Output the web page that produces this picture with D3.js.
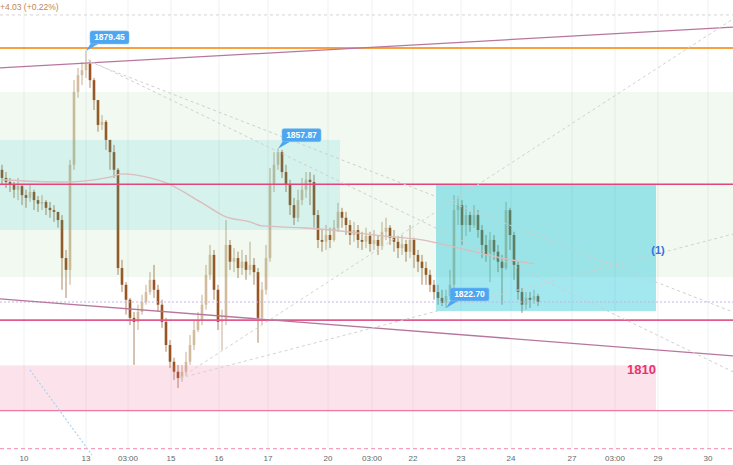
<!DOCTYPE html>
<html><head><meta charset="utf-8">
<script src="https://cdn.jsdelivr.net/npm/d3@7"></script>
<style>html,body{margin:0;padding:0;background:#fff;overflow:hidden}svg{display:block}</style>
</head><body><svg id="c" width="733" height="465"></svg>
<script>
// ---- data ----
const opens = [1853.2,1851.4,1850.5,1849.9,1848.8,1849.6,1847.6,1847.0,1848.3,1846.5,
1845.7,1846.1,1844.8,1844.3,1843.9,1842.1,1833.7,1831.1,1854.3,1870.4,
1874.1,1875.2,1876.6,1873.0,1868.6,1863.1,1863.8,1859.8,1857.1,1853.2,
1831.5,1827.8,1824.5,1820.5,1819.6,1821.8,1824.0,1826.2,1828.9,1826.7,
1823.4,1819.6,1814.5,1810.8,1808.6,1807.2,1808.6,1810.8,1814.5,1817.8,
1820.0,1823.4,1830.0,1834.4,1826.7,1819.6,1820.0,1836.6,1832.9,1833.7,
1831.5,1832.9,1831.1,1832.2,1830.6,1820.5,1826.7,1833.7,1849.9,1854.3,
1857.1,1852.7,1849.9,1845.4,1842.6,1846.5,1848.8,1851.0,1850.5,1843.2,
1837.7,1837.3,1838.8,1837.7,1840.4,1843.9,1842.6,1841.0,1838.8,1839.9,
1837.7,1837.3,1838.6,1836.8,1837.7,1836.4,1839.5,1840.4,1838.2,1837.3,
1835.9,1836.8,1835.1,1837.7,1834.4,1832.9,1831.5,1830.0,1827.8,1826.2,
1824.9,1823.8,1825.3,1827.8,1844.3,1845.4,1841.0,1843.2,1841.0,1843.2,
1839.9,1836.6,1834.4,1837.7,1835.1,1832.9,1831.5,1844.3,1838.8,1832.2,
1826.2,1823.4,1824.9,1824.5,1825.3];
const highs = [1854.3,1852.7,1851.4,1850.5,1851.4,1849.9,1848.8,1849.9,1848.8,1847.4,
1847.6,1846.5,1846.1,1845.4,1843.9,1843.2,1835.5,1855.4,1873.0,1875.7,
1877.0,1879.45,1877.5,1873.5,1868.6,1865.3,1864.2,1859.8,1858.7,1853.6,
1833.3,1828.4,1824.9,1821.8,1823.4,1825.6,1827.8,1830.6,1832.2,1827.8,
1824.5,1820.5,1815.6,1811.7,1810.1,1810.1,1813.0,1816.7,1820.0,1821.8,
1825.6,1832.2,1836.6,1835.5,1827.8,1822.3,1842.1,1837.7,1835.9,1835.1,
1835.5,1834.4,1837.3,1833.7,1831.5,1828.4,1836.6,1853.6,1857.1,1857.87,
1857.6,1854.3,1851.0,1847.0,1848.8,1851.4,1852.7,1852.7,1852.1,1844.3,
1839.9,1841.0,1840.4,1842.1,1845.9,1844.8,1843.9,1842.1,1841.7,1841.0,
1839.5,1840.4,1839.5,1839.9,1838.6,1841.7,1842.6,1841.0,1839.9,1838.6,
1838.8,1837.7,1841.0,1838.2,1835.5,1834.4,1832.9,1831.1,1828.9,1827.8,
1826.7,1826.7,1831.1,1847.6,1847.4,1846.5,1845.4,1843.9,1845.4,1844.3,
1841.0,1838.8,1839.5,1838.8,1836.6,1834.4,1846.1,1844.8,1839.5,1832.9,
1827.1,1826.2,1826.2,1826.7,1825.8];
const lows = [1849.9,1849.2,1848.3,1847.0,1846.5,1845.4,1844.8,1846.1,1844.3,1843.9,
1844.3,1843.2,1842.6,1841.7,1840.4,1826.7,1824.9,1827.8,1853.2,1869.1,
1871.9,1873.5,1871.3,1866.4,1861.6,1862.0,1857.6,1853.2,1851.4,1830.0,
1826.2,1821.2,1818.9,1810.1,1817.8,1821.2,1823.4,1825.6,1824.9,1821.8,
1818.3,1813.0,1809.4,1806.8,1805.0,1806.4,1807.7,1810.1,1813.4,1817.4,
1818.9,1822.3,1828.9,1824.5,1817.8,1813.4,1818.9,1831.1,1830.6,1829.3,
1830.0,1828.9,1830.0,1827.8,1815.0,1818.9,1825.6,1832.9,1848.3,1853.2,
1851.4,1848.3,1843.2,1841.0,1841.7,1845.4,1847.0,1845.4,1840.4,1835.9,
1835.1,1835.5,1835.9,1837.3,1839.5,1840.4,1838.8,1836.6,1837.3,1835.9,
1835.5,1835.9,1835.1,1835.5,1834.4,1835.5,1837.7,1836.6,1835.1,1833.7,
1834.4,1832.9,1833.7,1831.5,1830.6,1827.8,1827.8,1826.2,1824.5,1823.4,
1823.1,1822.7,1824.5,1826.7,1841.0,1836.6,1838.6,1839.5,1840.4,1838.2,
1833.7,1832.9,1828.4,1833.3,1830.6,1823.4,1831.1,1835.5,1828.9,1824.5,
1821.6,1822.3,1822.7,1823.6,1823.1];
const closes = [1851.4,1850.5,1849.9,1848.8,1849.6,1847.6,1847.0,1848.3,1846.5,1845.7,
1846.1,1844.8,1844.3,1843.9,1842.1,1833.7,1831.1,1854.3,1870.4,1874.1,
1875.2,1876.6,1873.0,1868.6,1863.1,1863.8,1859.8,1857.1,1853.2,1831.5,
1827.8,1824.5,1820.5,1819.6,1821.8,1824.0,1826.2,1828.9,1826.7,1823.4,
1819.6,1814.5,1810.8,1808.6,1807.2,1808.6,1810.8,1814.5,1817.8,1820.0,
1823.4,1830.0,1834.4,1826.7,1819.6,1820.0,1836.6,1832.9,1833.7,1831.5,
1832.9,1831.1,1832.2,1830.6,1820.5,1826.7,1833.7,1849.9,1854.3,1857.1,
1852.7,1849.9,1845.4,1842.6,1846.5,1848.8,1851.0,1850.5,1843.2,1837.7,
1837.3,1838.8,1837.7,1840.4,1843.9,1842.6,1841.0,1838.8,1839.9,1837.7,
1837.3,1838.6,1836.8,1837.7,1836.4,1839.5,1840.4,1838.2,1837.3,1835.9,
1836.8,1835.1,1837.7,1834.4,1832.9,1831.5,1830.0,1827.8,1826.2,1824.9,
1823.8,1825.3,1827.8,1844.3,1845.4,1841.0,1843.2,1841.0,1843.2,1839.9,
1836.6,1834.4,1837.7,1835.1,1832.9,1831.5,1844.3,1838.8,1832.2,1826.2,
1823.4,1824.9,1824.5,1825.3,1824.0];

const tickIndex  = [5.5,21,31.5,42.25,54.25,66.5,81.5,92.5,102.75,114.75,127.25,142.5,153.25,164,176.5];
const tickLabels = ["10","13","03:00","15","16","17","20","03:00","22","23","24","27","03:00","29","30"];

const maIndex  = [0,15,27,30,37,41,50,56,62,65,75,82,95,105,113,125,133];
const maValues = [1851.0,1850.5,1851.6,1852.3,1851.4,1850.3,1845.9,1842.8,1841.7,1840.8,1840.4,1839.9,1838.6,1837.7,1836.2,1833.7,1832.4];

const zoneNames  = ["range","supply","target","box"];
const zoneStart  = [-0.5,-0.5,-0.5,108.5];
const zoneEnd    = [182.75,84.5,163.5,163.5];
const zoneTop    = [1870.4,1859.8,1810.0,1850.0];
const zoneBottom = [1829.5,1839.9,1800.0,1822.0];

const levelNames  = ["orange","mid","support","target","low","topDash","botDash"];
const levelPrices = [1880.1,1850.0,1820.0,1800.0,1824.0,1887.4,1791.6];

const trendNames = ["upper","lower","peakA","peakB","lowC","lowD","leftBlue"];
const trendI1 = [-0.5,-0.5,21.5,22,44.5,44.5,7];
const trendP1 = [1875.7,1824.7,1877.5,1877.0,1807.2,1807.2,1809.0];
const trendI2 = [182.75,182.75,182.75,182.75,182.75,182.75,22.5];
const trendP2 = [1884.7,1812.1,1808.6,1821.8,1886.5,1839.0,1790.2];

const calloutIndex = [21,69,111];
const calloutPrice = [1879.45,1857.87,1822.70];

// ---- scales ----
const W = 733, H = 465;
const svg = d3.select("#c");
const x = d3.scaleLinear().domain([-0.5,182.75]).range([0,W]);
const y = d3.scaleLinear().domain([1788.0,1890.7]).range([H,0]);

svg.append("rect").attr("width",W).attr("height",H).attr("fill","#fff");

// grid
svg.append("g").selectAll("line").data(tickIndex).join("line")
  .attr("x1",d=>x(d)).attr("x2",d=>x(d)).attr("y1",0).attr("y2",448)
  .attr("stroke","#f0f1f3").attr("stroke-width",1);

// candles
const candles = d3.range(closes.length).map(i=>({i,o:opens[i],h:highs[i],l:lows[i],c:closes[i]}));
const cg = svg.append("g");
cg.selectAll("line").data(candles).join("line")
  .attr("x1",d=>x(d.i)).attr("x2",d=>x(d.i))
  .attr("y1",d=>y(d.h)).attr("y2",d=>y(d.l))
  .attr("stroke",d=>d.c>=d.o?"#c4ae92":"#ad8663").attr("stroke-width",1);
cg.selectAll("rect").data(candles).join("rect")
  .attr("x",d=>x(d.i)-1.3).attr("width",2.6)
  .attr("y",d=>y(Math.max(d.o,d.c)))
  .attr("height",d=>Math.max(1,Math.abs(y(d.o)-y(d.c))))
  .attr("fill",d=>d.c>=d.o?"#d3bc9e":"#9a5424");

// zones
const zoneFill = {range:"rgba(76,175,80,0.08)",supply:"rgba(0,188,212,0.11)",target:"rgba(240,98,146,0.18)",box:"rgba(0,188,212,0.36)"};
svg.append("g").selectAll("rect").data(zoneNames).join("rect")
  .attr("x",(d,k)=>x(zoneStart[k])).attr("width",(d,k)=>x(zoneEnd[k])-x(zoneStart[k]))
  .attr("y",(d,k)=>y(zoneTop[k])).attr("height",(d,k)=>y(zoneBottom[k])-y(zoneTop[k]))
  .attr("fill",d=>zoneFill[d]);

// MA
svg.append("path").datum(maIndex.map((d,k)=>[d,maValues[k]]))
  .attr("d",d3.line().x(d=>x(d[0])).y(d=>y(d[1])).curve(d3.curveMonotoneX))
  .attr("fill","none").attr("stroke","#dcbcbc").attr("stroke-width",1.3);

// levels
const levelStyle = {
  orange:{c:"#f9a03f",w:2,da:null},
  mid:{c:"#e2457c",w:1.6,da:null},
  support:{c:"#e05a8c",w:1.6,da:null},
  target:{c:"#ee7aa2",w:1.3,da:null},
  low:{c:"#c9b3e6",w:1,da:"2,2"},
  topDash:{c:"#d4d4d4",w:1,da:"3,3"},
  botDash:{c:"#f7a0bc",w:1.3,da:"4,3"}
};
svg.append("g").selectAll("line").data(levelNames).join("line")
  .attr("x1",0).attr("x2",W)
  .attr("y1",(d,k)=>y(levelPrices[k])).attr("y2",(d,k)=>y(levelPrices[k]))
  .attr("stroke",d=>levelStyle[d].c).attr("stroke-width",d=>levelStyle[d].w)
  .attr("stroke-dasharray",d=>levelStyle[d].da);

// trend lines
const trendStyle = {
  upper:{c:"#b8769e",w:1.3,da:null},
  lower:{c:"#b8769e",w:1.3,da:null},
  peakA:{c:"#cfcfcf",w:1,da:"3,3"},
  peakB:{c:"#cfcfcf",w:1,da:"3,3"},
  lowC:{c:"#d2d2d2",w:1,da:"3,3"},
  lowD:{c:"#d2d2d2",w:1,da:"3,3"},
  leftBlue:{c:"#a9d2f2",w:1.2,da:"2,2"}
};
svg.append("g").selectAll("line").data(trendNames).join("line")
  .attr("x1",(d,k)=>x(trendI1[k])).attr("y1",(d,k)=>y(trendP1[k]))
  .attr("x2",(d,k)=>x(trendI2[k])).attr("y2",(d,k)=>y(trendP2[k]))
  .attr("stroke",d=>trendStyle[d].c).attr("stroke-width",d=>trendStyle[d].w)
  .attr("stroke-dasharray",d=>trendStyle[d].da);

// callouts
const fmt = d3.format(".2f");
const cog = svg.append("g");
calloutIndex.forEach((ci,k)=>{
  const tx = x(ci), ty = y(calloutPrice[k]);
  const bx = tx+4, by = ty-20, bw = 39, bh = 13;
  cog.append("path").attr("d",`M${tx},${ty}L${bx+1},${by+bh-1}L${bx+8},${by+bh}Z`).attr("fill","#4ea6f0");
  cog.append("rect").attr("x",bx).attr("y",by).attr("width",bw).attr("height",bh).attr("rx",2)
    .attr("fill","#4ea6f0").attr("stroke","#7cc0f5").attr("stroke-width",0.6);
  cog.append("text").attr("x",bx+bw/2).attr("y",by+9.5).attr("text-anchor","middle")
    .attr("font-family","Liberation Sans, Arial, sans-serif").attr("font-size",8.5).attr("font-weight","bold")
    .attr("fill","#fff").text(fmt(calloutPrice[k]));
});

// labels
svg.append("text").attr("x",x(164)-2).attr("y",y(1808.0)).attr("text-anchor","end")
  .attr("font-family","Liberation Sans, Arial, sans-serif").attr("font-size",13).attr("font-weight","bold")
  .attr("fill","#e8336f").text("1810");
svg.append("text").attr("x",x(164)).attr("y",y(1834.6)).attr("text-anchor","middle")
  .attr("font-family","Liberation Sans, Arial, sans-serif").attr("font-size",11).attr("font-weight","bold")
  .attr("fill","#2f72e0").text("(1)");
svg.append("text").attr("x",0).attr("y",10)
  .attr("font-family","Liberation Sans, Arial, sans-serif").attr("font-size",8.5)
  .attr("fill","#c08658").text("+4.03 (+0.22%)");

// x axis labels
svg.append("g").selectAll("text").data(tickLabels).join("text")
  .attr("x",(d,k)=>x(tickIndex[k])).attr("y",461).attr("text-anchor","middle")
  .attr("font-family","Liberation Sans, Arial, sans-serif").attr("font-size",8)
  .attr("fill","#666").text(d=>d);
</script></body></html>
